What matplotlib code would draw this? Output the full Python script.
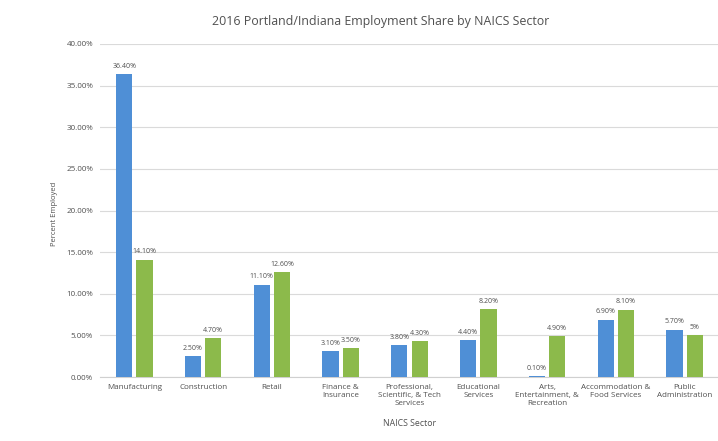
import matplotlib
matplotlib.use("Agg")
import matplotlib.pyplot as plt
import numpy as np

plt.rcParams['font.family'] = ['Open Sans', 'DejaVu Sans']

sectors = ["Manufacturing", "Construction", "Retail", "Finance &\nInsurance",
           "Professional,\nScientific, & Tech\nServices", "Educational\nServices",
           "Arts,\nEntertainment, &\nRecreation", "Accommodation &\nFood Services",
           "Public\nAdministration"]
portland = [36.40, 2.50, 11.10, 3.10, 3.80, 4.40, 0.10, 6.90, 5.70]
indiana = [14.10, 4.70, 12.60, 3.50, 4.30, 8.20, 4.90, 8.10, 5]
y_ticks = [0, 5, 10, 15, 20, 25, 30, 35, 40]

blue = "#4F8FD6"
green = "#8CBA4B"
text_c = "#505050"


def fmt(v):
    return f"{v}%" if isinstance(v, int) else f"{v:.2f}%"


fig = plt.figure(figsize=(7.18, 4.41), dpi=100)
ax = fig.add_axes([100 / 718, 64 / 441, 619 / 718, 333 / 441])

x = np.arange(len(sectors))
w = 0.235
gap = 0.06
b1 = ax.bar(x - w / 2 - gap / 2, portland, w, color=blue, zorder=3)
b2 = ax.bar(x + w / 2 + gap / 2, indiana, w, color=green, zorder=3)

for bars, vals in ((b1, portland), (b2, indiana)):
    for r, v in zip(bars, vals):
        ax.text(r.get_x() + r.get_width() / 2, v + 0.5, fmt(v), ha="center",
                va="bottom", fontsize=5, color=text_c)

ax.set_xlim(-0.5, len(sectors) - 0.5)
ax.set_ylim(0, 40)
ax.set_yticks(y_ticks)
ax.set_yticklabels([f"{t:.2f}%" for t in y_ticks], fontsize=5.8, color=text_c)
ax.set_xticks(x)
ax.set_xticklabels(sectors, fontsize=5.8, color=text_c, linespacing=1.25)
ax.tick_params(axis="both", length=0, pad=5)
ax.grid(axis="y", color="#DADADA", linewidth=0.8, zorder=0)
for s in ("top", "right", "left"):
    ax.spines[s].set_visible(False)
ax.spines["bottom"].set_color("#D0D0D0")

ax.set_ylabel("Percent Employed", fontsize=5.5, color=text_c)
ax.yaxis.set_label_coords(-0.068, 0.49)
fig.text(410 / 718, 1 - 423 / 441, "NAICS Sector", ha="center", va="center",
         fontsize=6.3, color=text_c)
fig.text(381 / 718, 1 - 22 / 441,
         "2016 Portland/Indiana Employment Share by NAICS Sector",
         ha="center", va="center", fontsize=8.9, color=text_c)

fig.savefig("out.png", dpi=100, facecolor="white")
